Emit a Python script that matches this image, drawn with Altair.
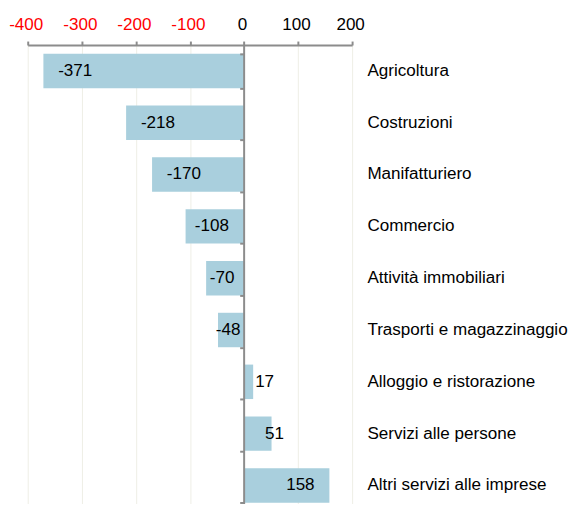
import altair as alt
import pandas as pd

categories = [
    "Agricoltura", "Costruzioni", "Manifatturiero", "Commercio",
    "Attività immobiliari", "Trasporti e magazzinaggio",
    "Alloggio e ristorazione", "Servizi alle persone",
    "Altri servizi alle imprese",
]
values = [-371, -218, -170, -108, -70, -48, 17, 51, 158]
x_ticks = [-400, -300, -200, -100, 0, 100, 200]

df = pd.DataFrame({"settore": categories, "valore": values})

FONT = "Arial"
FS = 17.3
BAR = "#A9CFDD"
AXIS_GREY = "#8C8C8C"

x_scale = alt.Scale(domain=[-400, 200], nice=False, zero=False)
y_scale = alt.Scale(range=[0, 473], paddingInner=0.335, paddingOuter=0.1675)

x_axis = alt.Axis(
    orient="top", values=x_ticks, title=None,
    labelExpr="'' + datum.value",
    labelFont=FONT, labelFontSize=FS, labelFlush=False, labelOverlap=False,
    labelColor={"condition": {"test": "datum.value < 0", "value": "#FF0000"}, "value": "#000000"},
    labelPadding=8, labelOffset=-2, tickSize=4, tickWidth=2, tickColor=AXIS_GREY,
    domainColor=AXIS_GREY, domainWidth=2,
    grid=True, gridColor="#EEEEE6", gridWidth=1,
)

x_enc = alt.X("valore:Q", scale=x_scale, axis=x_axis)
y_sort = categories

base = alt.Chart(df).transform_calculate(etichetta="'' + datum.valore")

bars = base.mark_bar(color=BAR).encode(
    x=x_enc,
    y=alt.Y("settore:N", sort=y_sort, scale=y_scale,
            axis=alt.Axis(orient="left", offset=-219, title=None, labels=False,
                          domainColor=AXIS_GREY, domainWidth=2,
                          ticks=True, tickBand="extent", tickSize=4, tickWidth=2,
                          tickColor=AXIS_GREY, grid=False, zindex=1)),
)

def label_layer(filt, align, dx, field="valore:Q"):
    return base.transform_filter(filt).mark_text(
        align=align, baseline="middle", dx=dx, font=FONT, fontSize=FS, color="black"
    ).encode(
        x=alt.X(field, scale=x_scale, axis=x_axis),
        y=alt.Y("settore:N", sort=y_sort, scale=y_scale, axis=None),
        text=alt.Text("etichetta:N"),
    )

neg_far = label_layer("datum.valore <= -150", "left", 15)
neg_near = base.transform_filter("datum.valore > -150 && datum.valore < 0").transform_calculate(
    meta="datum.valore / 2"
).mark_text(align="center", baseline="middle", dx=-3, font=FONT, fontSize=FS, color="black").encode(
    x=alt.X("meta:Q", scale=x_scale, axis=x_axis),
    y=alt.Y("settore:N", sort=y_sort, scale=y_scale, axis=None),
    text=alt.Text("etichetta:N"),
)
pos_small = label_layer("datum.valore > 0 && datum.valore < 30", "left", 2)
pos_mid = label_layer("datum.valore >= 30 && datum.valore < 100", "center", 3)
pos_big = label_layer("datum.valore >= 100", "right", -15)

cat_axis = base.mark_text(opacity=0).encode(
    x=alt.X("valore:Q", scale=x_scale, axis=x_axis),
    y=alt.Y("settore:N", sort=y_sort, scale=y_scale,
            axis=alt.Axis(orient="right", title=None, domain=False, ticks=False, tickSize=0,
                          labelPadding=15, labelAlign="left", labelBaseline="middle",
                          labelFont=FONT, labelFontSize=FS, labelColor="black",
                          labelLimit=400, labelOverlap=False, grid=False)),
    text=alt.Text("etichetta:N"),
)

chart = alt.layer(
    bars, neg_far, neg_near, pos_small, pos_mid, pos_big, cat_axis
).resolve_axis(y="independent").properties(
    width=329, height=462,
    autosize=alt.AutoSizeParams(type="none"),
    padding={"left": 20, "top": 34, "right": 221, "bottom": 0},
).configure_view(stroke=None)

chart.save("out.html", embed_options={"renderer": "svg", "actions": False})
